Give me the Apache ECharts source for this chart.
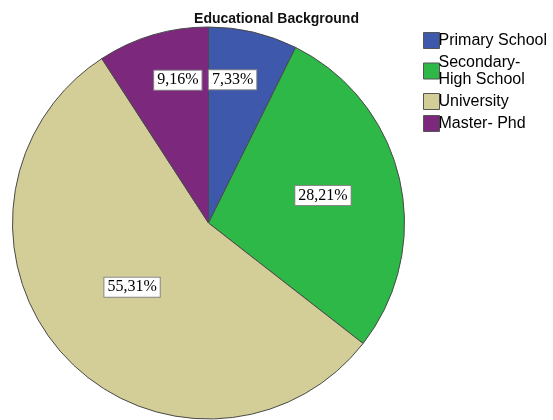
<!DOCTYPE html>
<html>
<head>
<meta charset="utf-8">
<script src="https://cdn.jsdelivr.net/npm/echarts@6/dist/echarts.min.js"></script>
<style>
  html, body { margin: 0; padding: 0; background: #fff; }
  #chart { width: 553px; height: 420px; }
</style>
</head>
<body>
<div id="chart"></div>
<script>
// Education level shares (percent)
const categories = ['Primary School', 'Secondary-\nHigh School', 'University', 'Master- Phd'];
const shares = [7.33, 28.21, 55.31, 9.16];
const sliceColors = ['#3E58AC', '#2EB848', '#D3CE97', '#7C287D'];

// Nudges for the value boxes relative to the default inside position
const labelNudge = [[1, -45], [16, -5], [-2, -4], [-2, -46]];

const chart = echarts.init(document.getElementById('chart'), null, { renderer: 'canvas' });

chart.setOption({
  animation: false,
  backgroundColor: '#ffffff',
  title: {
    text: 'Educational Background',
    left: 'center',
    top: 7,
    textStyle: {
      fontFamily: 'Liberation Sans, Arial, sans-serif',
      fontSize: 14,
      fontWeight: 'bold',
      color: '#111'
    }
  },
  legend: {
    orient: 'vertical',
    left: 418,
    top: 27,
    itemWidth: 16,
    itemHeight: 16,
    itemGap: 5,
    icon: 'rect',
    selectedMode: false,
    itemStyle: { borderColor: '#555', borderWidth: 1 },
    textStyle: {
      fontFamily: 'Liberation Sans, Arial, sans-serif',
      fontSize: 16,
      lineHeight: 17,
      color: '#000',
      padding: [0, 0, 0, -6]
    },
    data: categories
  },
  series: [{
    type: 'pie',
    center: [208.5, 223],
    radius: 196,
    startAngle: 90,
    clockwise: true,
    avoidLabelOverlap: false,
    emphasis: { disabled: true },
    itemStyle: {
      borderColor: '#4a4a4a',
      borderWidth: 1
    },
    label: {
      show: true,
      position: 'inside',
      formatter: function (p) { return p.value.toFixed(2).replace('.', ',') + '%'; },
      fontFamily: 'Liberation Serif, Times New Roman, serif',
      fontSize: 16,
      lineHeight: 16,
      color: '#000',
      backgroundColor: '#ffffff',
      borderColor: '#888',
      borderWidth: 1,
      padding: [2, 3, 1, 3]
    },
    labelLine: { show: false },
    labelLayout: function (params) {
      const n = labelNudge[params.dataIndex];
      return { dx: n[0], dy: n[1] };
    },
    data: categories.map(function (name, i) {
      return { name: name, value: shares[i], itemStyle: { color: sliceColors[i] } };
    })
  }]
});
</script>
</body>
</html>
